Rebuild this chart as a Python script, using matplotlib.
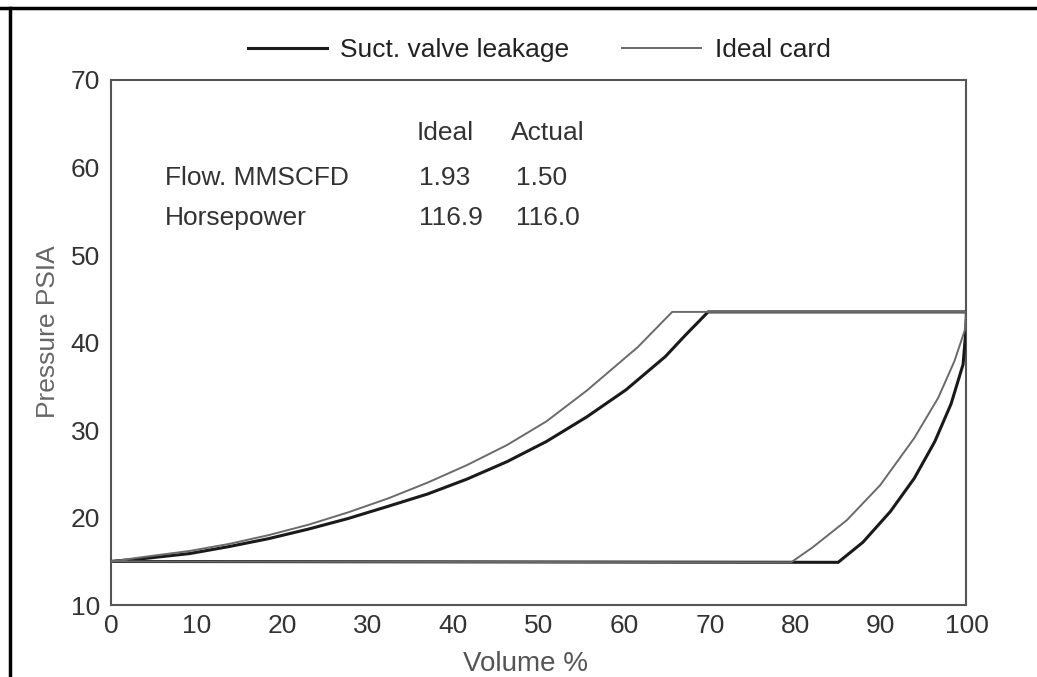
import matplotlib
matplotlib.use('Agg')
import matplotlib.pyplot as plt
from matplotlib.lines import Line2D

plt.rcParams['font.family'] = ['Liberation Sans', 'DejaVu Sans']

# ideal card (thin grey)
ideal_vol = [0, 4.5, 9.2, 13.8, 18.4, 23.1, 27.7, 32.4, 37.0, 41.6, 46.3,
             50.9, 55.6, 61.6, 65.6, 100,
             99.8, 98.6, 96.7, 93.9, 89.9, 86.0, 82.0, 79.5, 0]
ideal_psi = [15.0, 15.6, 16.2, 17.0, 18.0, 19.2, 20.6, 22.2, 24.0, 26.0, 28.3,
             31.0, 34.5, 39.5, 43.5, 43.5,
             41.4, 37.9, 33.7, 29.1, 23.7, 19.7, 16.6, 14.9, 15.0]

# suction valve leakage card (heavy black)
leak_vol = [0, 4.5, 9.2, 13.8, 18.4, 23.1, 27.7, 32.4, 37.0, 41.6, 46.3,
            50.9, 55.6, 60.2, 64.8, 67.1, 69.8, 100,
            99.9, 99.6, 98.2, 96.3, 93.9, 91.1, 87.9, 85.0, 0]
leak_psi = [15.0, 15.4, 15.9, 16.7, 17.6, 18.7, 19.9, 21.3, 22.7, 24.4, 26.4,
            28.7, 31.5, 34.6, 38.4, 40.8, 43.5, 43.5,
            41.0, 37.5, 33.0, 28.7, 24.5, 20.7, 17.2, 14.9, 15.0]

x_ticks = [0, 10, 20, 30, 40, 50, 60, 70, 80, 90, 100]
y_ticks = [10, 20, 30, 40, 50, 60, 70]

table_cols = ['Ideal', 'Actual']
table_rows = ['Flow. MMSCFD', 'Horsepower']
table_vals = [['1.93', '1.50'], ['116.9', '116.0']]

fig = plt.figure(figsize=(10.37, 6.77), dpi=100)
ax = fig.add_axes([0.107, 0.106, 0.825, 0.776])

ax.plot(leak_vol, leak_psi, color='#1a1a1a', lw=2.2, solid_joinstyle='miter',
        label='Suct. valve leakage', zorder=3)
ax.plot(ideal_vol, ideal_psi, color='#6a6a6a', lw=1.4, solid_joinstyle='miter',
        label='Ideal card', zorder=4)

ax.set_xlim(0, 100)
ax.set_ylim(10, 70)

# labels at every value, tick marks only on the inner ones
ax.set_xticks(x_ticks)
ax.set_yticks(y_ticks)
ax.set_xticks(x_ticks[1:-1], minor=True)
ax.set_yticks(y_ticks[1:-1], minor=True)
ax.tick_params(which='major', length=0, labelsize=19, labelcolor='#333333')
ax.tick_params(axis='x', which='major', pad=6)
ax.tick_params(axis='y', which='major', pad=8)
ax.tick_params(which='minor', direction='in', length=9, width=1.3, color='#555555')

for s in ax.spines.values():
    s.set_color('#555555')
    s.set_linewidth(1.5)

ax.set_xlabel('Volume %', fontsize=20, color='#555555')
ax.set_ylabel('Pressure PSIA', fontsize=19, color='#666666')
ax.xaxis.set_label_coords(0.484, -0.088)
ax.yaxis.set_label_coords(-0.06, 0.52)

# little data table in the upper left
ax.text(35.7, 63.9, table_cols[0], fontsize=19, color='#333333', va='center')
ax.text(46.8, 63.9, table_cols[1], fontsize=19, color='#333333', va='center')
row_y = [58.8, 54.2]
for i in range(len(table_rows)):
    ax.text(6.3, row_y[i], table_rows[i], fontsize=19, color='#333333', va='center')
    ax.text(36.0, row_y[i], table_vals[i][0], fontsize=19, color='#333333', va='center')
    ax.text(47.3, row_y[i], table_vals[i][1], fontsize=19, color='#333333', va='center')

fig.legend(loc='center', bbox_to_anchor=(0.52, 0.926), ncol=2, frameon=False,
           fontsize=19, handlelength=3.0, handletextpad=0.5, columnspacing=2.0,
           labelcolor='#222222')

# scan border at top and left
fig.add_artist(Line2D([0.0, 1.0], [0.988, 0.988], color='black', lw=2.5))
fig.add_artist(Line2D([0.0095, 0.0095], [0.0, 0.988], color='black', lw=2.5))

fig.savefig('out.png', dpi=100)
